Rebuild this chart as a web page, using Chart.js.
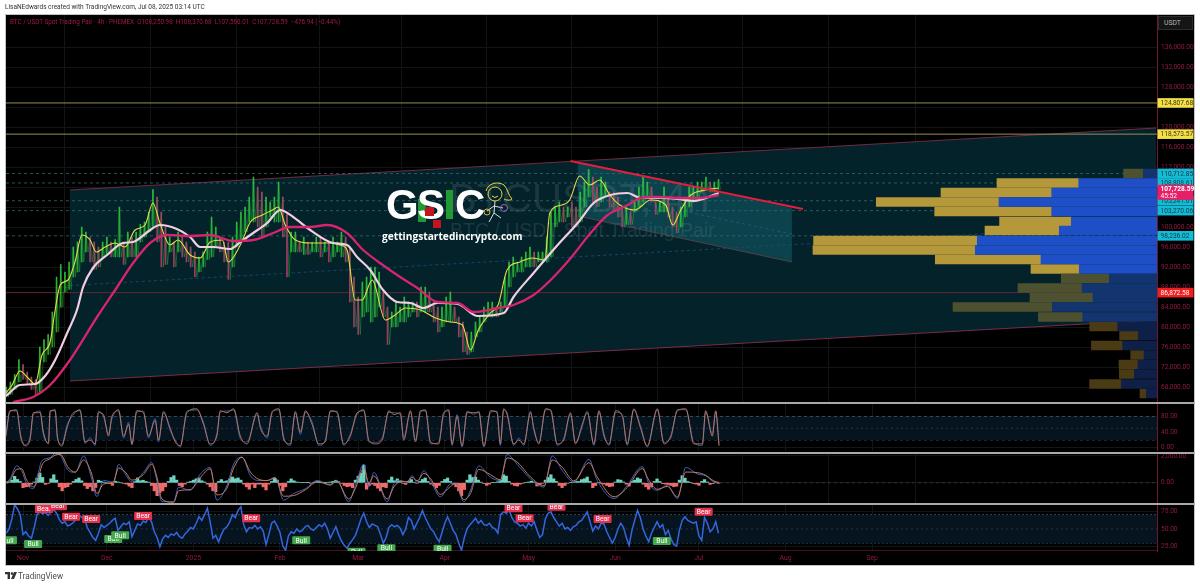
<!DOCTYPE html>
<html>
<head>
<meta charset="utf-8">
<title>BTC / USDT</title>
<script src="https://cdn.jsdelivr.net/npm/chart.js@4"></script>
<style>
html,body{margin:0;padding:0;background:#fff;width:1200px;height:586px;overflow:hidden;font-family:Roboto,"Liberation Sans",sans-serif}
#all{position:absolute;left:0;top:0;width:1200px;height:586px;filter:blur(.3px)}
#frame{position:absolute;left:5px;top:14px;width:1190px;height:552px;background:#000;border:1px solid #c4c4c4;box-sizing:border-box}
canvas{position:absolute}
.sep{position:absolute;left:5px;width:1190px;height:2px;background:#a9a9a9}
.txt{position:absolute;white-space:pre}
</style>
</head>
<body>
<div id="all">
<div class="txt" style="left:5px;top:3px;font-size:6.5px;color:#333">LisaNEdwards created with TradingView.com, Jul 08, 2025 03:14 UTC</div>
<div id="frame"></div>
<canvas id="cMain" style="left:6px;top:15px"></canvas>
<canvas id="cVol" style="left:800px;top:15px"></canvas>
<canvas id="cStoch" style="left:6px;top:404px"></canvas>
<canvas id="cMacd" style="left:6px;top:454px"></canvas>
<canvas id="cRsi" style="left:6px;top:505px"></canvas>
<div class="sep" style="top:402px"></div>
<div class="sep" style="top:452px"></div>
<div class="sep" style="top:503px"></div>
<div class="txt" style="left:10px;top:18px;font-size:6.3px;color:#a3184c">BTC / USDT Spot Trading Pair · 4h · PHEMEX  O108,250.98  H108,370.68  L107,560.01  C107,728.59  −476.94 (−0.44%)</div>
<div class="txt" style="left:1158px;top:16px;width:35px;height:14px;box-sizing:border-box;background:#151515;border:1px solid #2c2c2c;color:#b5b5b5;font-size:6.8px;line-height:12px;padding-left:5px">USDT</div>

<!-- logo over the chart -->
<div class="txt" style="left:386px;top:181px;font:bold 42px 'Liberation Sans';color:#fff;letter-spacing:1.5px">G</div>
<div class="txt" style="left:418px;top:199px;width:8px;height:23px;background:#1f9a35"></div>
<div class="txt" style="left:417px;top:181px;font:bold 42px 'Liberation Sans';color:#fff">S</div>
<div class="txt" style="left:425px;top:207px;width:9px;height:9px;background:#c3141f"></div>
<div class="txt" style="left:433px;top:220px;width:8px;height:8px;background:#c3141f"></div>
<div class="txt" style="left:446px;top:190px;width:7px;height:29px;background:#1f9a35"></div>
<div class="txt" style="left:455px;top:181px;font:bold 42px 'Liberation Sans';color:#fff">C</div>
<svg style="position:absolute;left:484px;top:181px" width="30" height="48" viewBox="0 0 30 48" fill="none" stroke-width="1">
<path d="M2 10 C4 2 14 0 20 4 C24 8 24 14 28 18 C26 20 22 19 20 18" stroke="#e8d94a"/>
<circle cx="11" cy="13" r="7" stroke="#e8d94a"/>
<path d="M8 15 Q11 18 14 15" stroke="#e8d94a"/>
<path d="M11 20 L10 32 M10 25 L3 30 M10 25 L19 27 M10 32 L5 41 M10 32 L17 37" stroke="#ddd"/>
<circle cx="3" cy="31" r="3" stroke="#d9b23a"/><circle cx="20" cy="27" r="3.5" stroke="#a060c0"/>
</svg>
<div class="txt" style="left:382px;top:229px;font:bold 10.2px 'Open Sans';color:#fff">gettingstartedincrypto.com</div>

<svg style="position:absolute;left:5px;top:572px" width="12" height="8" viewBox="0 0 12 8"><path d="M0 0H5V7H2.6V2.3H0Z M6 7 9 0H12L9 7Z" fill="#333"/><circle cx="7" cy="1.6" r="1.3" fill="#333"/></svg>
<div class="txt" style="left:18px;top:571px;font-size:8.2px;color:#4c4c4c">TradingView</div>
</div>

<script>
// time axis, days counted from 1 Nov 2024
var monthDays = [0, 30, 61, 92, 120, 151, 181, 212, 242, 273, 304];
var monthLabels = ['Nov', 'Dec', '2025', 'Feb', 'Mar', 'Apr', 'May', 'Jun', 'Jul', 'Aug', 'Sep'];
var dayMin = -6.1, dayMax = 406;

// price in thousands of USDT
var priceTicks = [136, 132, 128, 124, 120, 116, 112, 108, 104, 100, 96, 92, 88, 84, 80, 76, 72, 68];
var hiddenTicks = [124, 108, 104];

// 4h candles thinned to one every 1.5 days
var candleStart = -6, candleStep = 1.5;
var candleHigh = [68, 69, 70.5, 73.5, 72.5, 71, 70, 69.5, 76, 77.5,
  78.5, 83, 90, 92.5, 91, 93, 96, 97, 100, 99,
  98, 97, 96, 97, 98, 97, 97.5, 104, 97, 99,
  98, 99, 100.5, 101, 103, 107.5, 106, 103, 100, 98,
  97, 99, 98, 97, 96, 95, 94, 95, 99, 102,
  100, 98, 97, 97, 98, 101, 103, 104, 106, 110,
  108, 107, 106, 105, 106, 109, 106, 103, 99, 99,
  97, 98, 97, 97, 98, 98, 97, 97, 98, 97,
  99, 98, 96, 90, 86, 89, 90, 92, 92, 91,
  87, 84, 83, 85, 84, 86, 85, 85, 85, 88,
  88, 87, 85, 84, 84, 86, 87, 84, 82, 81,
  79, 79, 81, 82, 84, 85, 85, 84, 85, 90,
  93, 94, 93, 94, 95, 96, 95, 95, 95, 98,
  103, 104, 105, 104, 104, 105, 104, 107, 109, 111.5,
  110, 108, 110, 109, 107, 107, 106, 104, 104, 103,
  105, 108, 110, 109, 108, 105, 105, 108, 106, 104,
  103, 104, 106, 108, 108, 109, 109, 110, 109, 109,
  109.5];
var candleLow = [66, 66.5, 67.5, 69, 69.5, 68.5, 67.5, 66.5, 67, 73,
  74.5, 76, 79, 84, 87, 87.5, 90, 91, 93, 95,
  93, 91.5, 92, 94, 94.5, 94, 94, 94, 92.5, 94,
  94, 94, 97, 98, 99, 100, 97, 92, 92.5, 95,
  92, 95, 94, 93, 92, 90, 91, 92, 93.5, 94,
  96, 95, 93, 89.5, 92, 96, 97, 99, 101, 101,
  100, 98, 100, 102, 101, 101, 98, 90, 95, 95,
  95, 94.5, 94.5, 95, 95, 94, 95, 93, 94, 95,
  94, 93, 85, 80, 78.5, 82, 83, 81, 82, 84,
  82, 76.5, 80, 80, 81, 81, 82, 83, 82, 83,
  83, 83, 81, 79, 80, 81, 81, 81, 78, 75,
  74.5, 75, 78, 79, 81, 82, 82, 82, 83, 84,
  88, 90, 91, 91, 92, 92, 92, 93, 93, 93,
  94, 100, 101, 101, 102, 100, 100, 101, 104, 106,
  105, 104, 105, 106, 104, 103, 102, 100, 100.5, 100.5,
  103, 104, 105, 106, 105, 102.5, 103, 103, 102, 100,
  98.8, 100, 102, 104, 105, 106, 107, 107.5, 107, 107,
  107.5];

var yellowDays = [-6.1, -3.9, -1.1, 1.8, 4.3, 6.8, 9.7, 11.5, 13.3, 16.1, 18.6, 21.1, 24, 26.2, 29.4, 32.9, 36.5, 40.1, 43.7, 46.5, 49, 52.6, 55.5, 59.8, 63.4, 67, 71.4, 73.5, 77.8, 81.4, 85.7, 89.3, 91.4, 93.9, 97.5, 102.8, 109.9, 113.5, 116, 118.9, 121.4, 125, 129.7, 133.2, 136.9, 142.3, 147.7, 153, 157.3, 160.2, 163, 167.3, 170.1, 173.3, 177.9, 182.2, 186.8, 188.6, 192.9, 195.7, 199.3, 202.9, 206.5, 210.1, 213.7, 219, 224.7, 230.1, 232.6, 235.5, 239.1, 244.4, 249.1];
var yellowVals = [66.8, 68.4, 71.2, 69.8, 68.6, 74.4, 77, 83.4, 88.4, 89.4, 93, 98.4, 97.4, 95, 96, 96.8, 96, 99.4, 100.4, 104.8, 100.8, 96.4, 97.4, 94.4, 93.8, 97, 97.4, 93, 96.4, 101, 102.4, 103.4, 104, 100.4, 97.4, 96.8, 96.8, 96.4, 95.4, 85.4, 85.4, 89.4, 81.4, 82.4, 83.8, 83.4, 81.8, 81, 80.4, 75.4, 79.4, 82.8, 84.4, 91.4, 93, 93.8, 93.4, 102.8, 104.4, 105.4, 110.2, 108.4, 109.4, 106.4, 104.4, 103.4, 105.4, 104.4, 100.4, 103.4, 106.4, 107.4, 107.8];

var whiteDays = [-6.1, -1.1, 4.3, 7.9, 11.5, 15.8, 19.3, 21.5, 25, 30.1, 35.8, 39.4, 45.5, 49, 55.1, 59.8, 63.4, 68, 74.1, 77.8, 82.4, 87.4, 92.1, 96.7, 102.8, 111, 116, 119.6, 124.3, 128.9, 134, 138.7, 143.3, 148.4, 155.6, 162.8, 172.1, 175.6, 182.8, 191.4, 198.6, 204.3, 210.4, 216.5, 221.1, 228.3, 234.4, 240.1, 249.1];
var whiteVals = [66.2, 68.4, 68.6, 70.2, 73.4, 78.8, 83.4, 88, 91.8, 94.4, 96.8, 97, 99.4, 100.4, 99.6, 98, 96, 96, 95.6, 97, 98.8, 100.8, 103.4, 102, 99.4, 96.8, 96.4, 94, 91.4, 87.4, 85, 84.8, 83.8, 84.8, 84.6, 82.2, 82.8, 86, 90.8, 96.4, 100.8, 104.8, 106.4, 106.8, 105.8, 105.8, 105.6, 105.2, 106.8];

var crimsonDays = [-3.6, 3.6, 9.7, 16.8, 26.5, 33.7, 39.4, 45.5, 51.6, 59.8, 67, 75.3, 82.4, 89.6, 95.7, 102.8, 108.9, 116, 121.8, 127.8, 135, 141.2, 148.4, 155.6, 161.3, 170, 175.6, 182.8, 188.9, 196.1, 203.2, 209.3, 216.5, 221.1, 227.2, 236.6, 242.7, 249.1];
var crimsonVals = [65, 66, 68.4, 73.4, 82, 88, 92.8, 96.8, 98.4, 98.2, 98.4, 97.2, 97.4, 98.8, 100, 100, 100.4, 98.8, 95.4, 92.8, 90, 87.8, 85, 84.8, 83, 83.8, 84.4, 86.4, 89.4, 93.8, 98.8, 102.4, 104.4, 105.8, 106, 105.8, 105.8, 106.4];

// channels and drawn lines
var channelDays = [16.8, 405.7];
var channelUpper = [107.4, 119.8];
var channelMid = [88.3, 100.6];
var channelLower = [69.2, 81.4];
var wedgeDays = [198.6, 275.3];
var wedgeUpper = [112.9, 103.8];
var wedgeMid = [107.6, 98.6];
var wedgeLower = [102.2, 93];
var trendDays = [196, 279.2];
var trendVals = [113.2, 103.6];

var yellowLevels = [124.80768, 118.57357];
var redLevel = 86.87258;
var dashLevels = [110.71285, 108.80861, 105.24161, 103.27006, 98.23602];

var tagVals = [124.80768, 118.57357, 110.71285, 108.80861, 105.24161, 103.27006, 98.23602, 86.87258];
var tagTexts = ['124,807.68', '118,573.57', '110,712.85', '108,808.61', '105,241.61', '103,270.06', '98,236.02', '86,872.58'];
var tagKinds = ['level', 'level', 'fib', 'fib', 'fib', 'fib', 'fib', 'low'];
var lastPrice = 107.72859, lastText = '107,728.59', lastTimer = '45:52';

// volume profile rows
var volPrices = [110.7, 108.8, 106.9, 105, 103.1, 101.1, 99.3, 97.3, 95.4, 93.5, 91.6, 89.7, 87.8, 85.9, 84, 82, 80.1, 78.3, 76.3, 74.4, 72.5, 70.6, 68.6, 66.7];
var volBuy = [13.7, 78.3, 105.3, 158, 105.3, 85.7, 97.7, 179.7, 181.7, 116, 77.7, 47.7, 75, 64, 104.7, 74.3, 39.3, 18.7, 34.3, 13, 19, 22.7, 35.7, 10.7];
var volSell = [19.7, 81.7, 110.7, 122.7, 117, 71.7, 74.3, 163.7, 162.3, 105.7, 48.3, 48, 64, 63, 99.3, 44.3, 28, 18.7, 31.3, 13.3, 19, 15, 31.7, 6.3];

// stochastic RSI
var stochDays = [-6.1, -4.7, -2.3, -0.8, 0.7, 2.5, 3.7, 6.1, 7.3, 9.1, 9.7, 11.5, 12.3, 13.9, 15.7, 17.5, 20.4, 22.2, 24, 25.8, 27, 28.8, 30.6, 31.8, 34.2, 36, 37.8, 39, 40.7, 43.1, 44.9, 47.3, 48.5, 50.3, 52.7, 54.5, 56.3, 58.7, 62.2, 64.6, 67, 69.4, 70.6, 73, 75.4, 77.8, 80.2, 83.8, 85, 87.4, 89.2, 91.6, 93.4, 95.7, 97.5, 99.3, 101.1, 103.5, 105.9, 108.2, 110, 112.4, 114.8, 117.2, 119.6, 122, 123.8, 126.2, 128.6, 131, 132.8, 135.1, 136.3, 138.7, 140.5, 142.3, 144.1, 145.9, 148.8, 150.6, 152.4, 153.6, 155.4, 157.2, 159, 161.4, 163.2, 165, 167.4, 169.7, 170.9, 172.1, 173.3, 175.7, 177.5, 179.3, 181.7, 182.9, 184.7, 187.1, 188.9, 191.3, 193.6, 196, 197.8, 200.2, 202, 204.4, 206.2, 208, 209.8, 212.2, 214.6, 216.3, 218.7, 221.1, 223.5, 227.1, 229.5, 231.9, 234.3, 237.3, 240.2, 243.2, 244.4, 246.8, 248, 249.2];
var stochOrange = [30, 95, 95, 30, 5, 20, 90, 90, 40, 10, 95, 95, 30, 5, 50, 85, 95, 15, 20, 10, 90, 85, 30, 80, 95, 30, 60, 10, 95, 90, 30, 70, 20, 90, 50, 15, 5, 90, 100, 60, 10, 30, 95, 90, 100, 30, 10, 90, 50, 30, 90, 100, 20, 10, 90, 40, 95, 60, 10, 15, 95, 90, 10, 30, 90, 95, 20, 10, 20, 95, 85, 90, 20, 95, 15, 95, 95, 15, 10, 90, 95, 10, 80, 5, 90, 90, 90, 5, 95, 90, 10, 100, 85, 10, 20, 10, 90, 50, 10, 100, 95, 10, 20, 90, 10, 60, 90, 10, 95, 30, 10, 95, 80, 10, 100, 50, 5, 100, 10, 30, 95, 100, 10, 10, 95, 30, 95, 5];
var stochBlue = [38, 92, 98, 24, 8, 28, 86, 94, 33, 14, 91, 98, 24, 9, 57, 80, 98, 11, 26, 6, 94, 80, 36, 74, 98, 25, 66, 7, 91, 94, 25, 75, 15, 94, 44, 20, 2, 94, 97, 66, 6, 36, 91, 94, 97, 24, 15, 85, 56, 25, 94, 97, 26, 6, 94, 34, 91, 66, 6, 20, 91, 94, 6, 36, 85, 98, 15, 14, 26, 91, 90, 85, 26, 91, 20, 91, 98, 10, 14, 85, 98, 6, 85, 2, 94, 86, 94, 2, 91, 94, 6, 97, 90, 6, 25, 6, 94, 44, 14, 97, 98, 6, 25, 85, 14, 54, 94, 6, 91, 36, 6, 91, 85, 6, 97, 56, 2, 97, 14, 25, 98, 97, 14, 6, 91, 36, 91, 9];

// MACD
var macdDays = [-6.1, -4.7, -2.3, -0.5, 1.3, 3.7, 5.5, 6.7, 9.7, 11.5, 13.3, 16.3, 18.7, 21.7, 24.6, 26.4, 28.8, 32.4, 34.2, 36.6, 39, 43.1, 46.1, 47.9, 49.7, 53.9, 55.7, 59.9, 63.5, 67, 69.4, 73, 75.4, 78.4, 81.4, 84.4, 87.4, 90.3, 93.3, 96.9, 101.1, 105.3, 110, 112.4, 116.6, 119, 122, 123.8, 125.6, 130.4, 132.8, 135.1, 137.5, 139.3, 141.1, 143.5, 145.9, 149.4, 153, 154.8, 157.8, 160.2, 163.2, 167.4, 170.9, 173.3, 176.9, 181.7, 186.5, 189.5, 193.1, 197.2, 202.6, 205.6, 211.6, 216.3, 221.7, 224.1, 227.1, 230.7, 234.3, 237.3, 241.4, 244.4, 247.4, 249.2];
var macdVals = [0, 290, 1260, 900, -70, -440, 780, 1630, 1870, 2190, 2070, 900, 780, 2000, 290, -1040, 170, 50, 1380, 660, 50, 780, 1510, 170, -1410, -1410, -320, -560, 660, 1140, -1290, -190, 1390, 1920, 530, 170, 170, 410, -1290, -800, -440, 170, -190, 170, -1410, -190, 1380, -320, 780, -1410, -70, 170, 50, 530, 50, 900, 170, -1040, -70, -20, -1410, -560, 1260, 410, 170, 2120, 1380, 290, -320, 2000, 900, 50, 1750, 170, -1170, -190, 1210, -70, -560, -190, -1170, 1140, 660, 530, 50, 0];
var signalVals = [40, 160, 1000, 1040, 200, -300, 340, 1280, 1800, 2060, 2120, 1100, 800, 1700, 640, -800, -100, 90, 1100, 800, 200, 620, 1380, 460, -1200, -1450, -600, -500, 400, 1040, -900, -400, 1100, 1900, 800, 260, 170, 360, -1000, -950, -520, 60, -120, 100, -1200, -420, 1100, 0, 520, -1200, -300, 90, 90, 400, 150, 700, 320, -860, -280, -40, -1250, -800, 1000, 600, 220, 1850, 1550, 430, -220, 1700, 1150, 140, 1500, 420, -1040, -360, 1060, 180, -480, -270, -1060, 800, 760, 560, 130, 30];
var histStart = -6;
var histVals = [0, 50, 200, 480, 250, 100, -360, -300, -290, -100, 60, 350, 720, 400, -120, -50, 300, 600, 200, -300, -600, -350, -290, -100, 100, 250, 360, 150, -200, -430, -300, -600, -350, 190, 120, 50, 0, -50, -190, 120, 60, 0, -50, -100, -250, -360, 100, 360, 150, 190, 100, 50, -200, -600, -960, -720, -600, -300, 100, 400, 530, 200, -200, -290, -100, 50, 100, 200, 300, 360, 150, 60, -100, -300, -600, -670, 100, 240, 100, 150, 300, 430, 300, 360, 200, -100, -300, -480, -100, -360, -100, -100, -300, -530, -100, 100, 360, 200, -200, -600, -300, 100, 290, 150, 60, 40, 30, 30, 20, -20, 30, 80, 120, 50, 20, 40, 60, 100, 190, 80, -50, -200, -290, -250, -360, 200, 500, 720, 1320, -480, -200, -100, -200, -400, -600, -300, -360, 200, 430, 150, 290, 150, -50, -120, 100, 240, 50, -30, 100, 250, 360, 100, -100, -200, -360, -200, 100, 250, 360, 100, -100, -300, -600, -960, -500, 200, 600, 400, 430, 200, 50, -60, -190, -100, 30, 30, 80, 200, 600, 500, 100, -100, -200, -240, -100, -30, 30, 60, 120, 50, -240, -150, -30, 200, 400, 600, 300, 100, -200, -360, -200, -30, 40, 60, 100, 100, 240, 300, 430, 100, -360, -200, 30, -50, -100, -200, -290, -250, 60, 240, 200, 60, -100, -240, 100, 200, 360, 280, -100, -300, -480, -300, 100, 290, 100, -60, -100, -120, -200, -290, -250, 200, 530, 350, 100, 30, -60, -100, -190, 100, 240, 60, -120, -60, 20, -20];

// RSI, one reading a day
var rsiStart = -6;
var rsiVals = [44, 50, 64, 84, 78, 70, 42, 46, 40, 37,
  52, 70, 74, 71, 73, 69, 74, 77, 72, 63,
  58, 60, 54, 56, 59, 64, 70, 66, 64, 52,
  45, 38, 34, 44, 56, 52, 55, 58, 62, 65,
  48, 53, 58, 56, 60, 39, 48, 57, 55, 61,
  59, 67, 60, 46, 38, 25, 36, 41, 38, 43,
  41, 45, 39, 37, 43, 47, 52, 50, 58, 67,
  62, 70, 79, 60, 37, 41, 32, 42, 50, 53,
  60, 70, 66, 76, 81, 56, 46, 52, 51, 55,
  50, 53, 47, 28, 42, 58, 61, 54, 45, 26,
  20, 40, 46, 44, 50, 46, 48, 53, 55, 50,
  48, 52, 56, 53, 58, 50, 37, 45, 53, 42,
  33, 27, 23, 30, 35, 41, 52, 64, 72, 60,
  52, 57, 55, 53, 42, 30, 38, 52, 56, 53,
  55, 51, 42, 50, 66, 62, 50, 58, 66, 76,
  66, 58, 50, 46, 38, 32, 45, 58, 67, 58,
  48, 42, 30, 20, 38, 50, 56, 60, 65, 58,
  62, 56, 55, 58, 52, 50, 44, 70, 74, 72,
  77, 66, 60, 58, 54, 56, 51, 58, 54, 60,
  48, 38, 42, 64, 72, 74, 66, 60, 54, 58,
  50, 52, 48, 53, 55, 60, 62, 68, 74, 60,
  47, 54, 50, 58, 57, 46, 38, 30, 38, 50,
  58, 52, 38, 27, 48, 62, 76, 66, 50, 40,
  32, 44, 52, 60, 52, 56, 42, 48, 36, 28,
  26, 48, 62, 67, 62, 60, 58, 60, 40, 34,
  66, 58, 46, 50, 60, 44];

var signalDays = [-5.4, 3.6, 7.5, 12.5, 17.2, 24.4, 32.3, 34.8, 43, 81.7, 99.6, 119.4, 130.1, 150.2, 175.6, 179.6, 191, 207.5, 228.7, 243.7];
var signalVals2 = [34, 29, 78, 82, 67, 64, 36, 41, 68, 65, 34, 18, 23, 22, 79, 65, 81, 64, 33, 74];
var signalNames = ['Bull', 'Bull', 'Bear', 'Bear', 'Bear', 'Bear', 'Bull', 'Bull', 'Bear', 'Bear', 'Bull', 'Bull', 'Bull', 'Bull', 'Bear', 'Bear', 'Bear', 'Bear', 'Bull', 'Bear'];

var axisRed = '#8f1a44';
var gridCol = '#101618';
var W = 1189, AXIS_W = 38;

Chart.defaults.animation = false;
Chart.defaults.responsive = false;
Chart.defaults.font.family = 'Roboto';

function pts(xs, ys) {
  var out = [];
  for (var i = 0; i < xs.length; i++) out.push({x: xs[i], y: ys[i]});
  return out;
}
function flat(v) { return [{x: dayMin, y: v}, {x: dayMax, y: v}]; }
function fmt(v) { return v.toLocaleString('en-US', {minimumFractionDigits: 2, maximumFractionDigits: 2}); }

function line(data, color, width, extra) {
  var d = {type: 'line', data: data, borderColor: color, borderWidth: width, pointRadius: 0, fill: false, tension: 0};
  for (var k in extra) d[k] = extra[k];
  return d;
}

function xScale(withLabels) {
  return {
    type: 'linear', min: dayMin, max: dayMax, offset: false,
    border: {display: false},
    grid: {color: gridCol, drawTicks: false},
    ticks: {display: withLabels, color: axisRed, autoSkip: false, maxRotation: 0, padding: 3, font: {size: 6.8},
      callback: function (v) { return monthLabels[monthDays.indexOf(v)]; }},
    afterBuildTicks: function (s) { s.ticks = monthDays.map(function (d) { return {value: d}; }); },
    afterFit: function (s) { s.height = withLabels ? 15 : 0; s.paddingLeft = 0; s.paddingRight = 0; }
  };
}
function yScale(min, max, ticks, label) {
  return {
    position: 'right', min: min, max: max,
    border: {color: '#6d1637', width: 1},
    grid: {color: gridCol, drawTicks: false},
    ticks: {color: axisRed, padding: 4, font: {size: 6.6}, autoSkip: false, callback: label},
    afterBuildTicks: function (s) { s.ticks = ticks.map(function (t) { return {value: t}; }); },
    afterFit: function (s) { s.width = AXIS_W; s.paddingTop = 0; s.paddingBottom = 0; }
  };
}
function size(id, w, h) {
  var c = document.getElementById(id);
  c.width = w; c.height = h; c.style.width = w + 'px'; c.style.height = h + 'px';
  return c;
}
function opts(yS, withLabels) {
  return {
    devicePixelRatio: 1,
    layout: {padding: 0},
    plugins: {legend: {display: false}, tooltip: {enabled: false}},
    scales: {x: xScale(withLabels), y: yS}
  };
}

// ---- main pane
var candleData = [], priceZigzag = [];
for (var i = 0; i < candleHigh.length; i++) {
  var d = candleStart + i * candleStep;
  candleData.push({x: d, y: [candleLow[i], candleHigh[i]]});
  priceZigzag.push({x: d, y: candleHigh[i]});
  priceZigzag.push({x: d + candleStep / 2, y: candleLow[i]});
}
var candleColors = candleData.map(function (c, i) {
  if (i == 0) return 'rgba(47,210,60,.75)';
  var prev = candleData[i - 1].y;
  return c.y[0] + c.y[1] >= prev[0] + prev[1] ? 'rgba(47,210,60,.75)' : 'rgba(184,64,108,.85)';
});

var WEDGE_INDEX = 6;
var watermark = {
  id: 'watermark',
  afterDatasetDraw: function (ch, args) {
    if (args.index != WEDGE_INDEX) return;
    var c = ch.ctx;
    c.save();
    c.fillStyle = 'rgba(150,175,185,.16)';
    c.textBaseline = 'alphabetic';
    c.font = '41.5px "Liberation Sans"';
    c.fillText('BTCUSDT, 4h', 443, 197);
    c.font = '19.5px "Liberation Sans"';
    c.fillText('BTC / USDT Spot Trading Pair', 444, 222);
    c.restore();
  }
};
function tag(c, x, y, w, h, bg, fg, text) {
  c.fillStyle = bg;
  c.fillRect(x, y - h / 2, w, h);
  c.fillStyle = fg;
  c.fillText(text, x + 3, y + .5);
}
var priceTags = {
  id: 'priceTags',
  afterDraw: function (ch) {
    var c = ch.ctx, s = ch.scales.y, x = ch.chartArea.right + .5;
    c.save();
    c.font = '6.6px Roboto';
    c.textBaseline = 'middle';
    c.textAlign = 'left';
    tagVals.forEach(function (v, i) {
      var k = tagKinds[i];
      var bg = k == 'level' ? '#f3e047' : k == 'fib' ? '#12bcd6' : '#f01e1e';
      var fg = k == 'low' ? '#ffffff' : '#16363c';
      if (k == 'level') fg = '#3a3410';
      tag(c, x, s.getPixelForValue(v), 36, 9.6, bg, fg, tagTexts[i]);
    });
    var y = s.getPixelForValue(lastPrice);
    c.fillStyle = '#e71f66';
    c.fillRect(x, y - 3.5, 36, 15);
    c.fillStyle = '#fff';
    c.font = 'bold 6.6px Roboto';
    c.fillText(lastText, x + 3, y + .5);
    c.font = '6.6px Roboto';
    c.fillText(lastTimer, x + 3, y + 8);
    c.restore();
  }
};

var mainSets = [
  line(pts(trendDays, trendVals), '#e21f3d', 2.1, {order: 1}),
  line(pts(crimsonDays, crimsonVals), '#d6246e', 2.3, {order: 2, cubicInterpolationMode: 'monotone'}),
  line(pts(whiteDays, whiteVals), '#f0cfe0', 2.2, {order: 3, cubicInterpolationMode: 'monotone'}),
  line(pts(yellowDays, yellowVals), '#e6dc46', 1.1, {order: 4, cubicInterpolationMode: 'monotone'}),
  {type: 'bar', data: candleData, backgroundColor: candleColors, barThickness: 1, order: 5},
  line(priceZigzag, 'rgba(53,196,63,.6)', .6, {order: 6}),
  line(pts(wedgeDays, wedgeUpper), 'rgba(0,0,0,0)', 0, {order: 20, fill: '+1', backgroundColor: 'rgba(22,112,124,.42)'}),
  line(pts(wedgeDays, wedgeLower), '#50404c', 1, {order: 19}),
  line(pts(wedgeDays, wedgeMid), '#1d5f88', .8, {order: 18, borderDash: [3, 3]}),
  line(pts(channelDays, channelUpper), '#6e2c44', 1, {order: 30, fill: '+1', backgroundColor: '#04222a'}),
  line(pts(channelDays, channelLower), '#7a2c48', 1, {order: 29}),
  line(pts(channelDays, channelMid), '#1b4d78', .8, {order: 17, borderDash: [3, 3]}),
  line(flat(yellowLevels[0]), '#a89d5c', .9, {order: 9}),
  line(flat(yellowLevels[1]), '#a89d5c', .9, {order: 9}),
  line(flat(redLevel), '#6a2a34', .9, {order: 9})
];
dashLevels.forEach(function (v) {
  mainSets.push(line(flat(v), '#2e6a72', .8, {order: 10, borderDash: [3, 3]}));
});

new Chart(size('cMain', W, 387), {
  type: 'line',
  data: {datasets: mainSets},
  options: opts(yScale(65, 142.4, priceTicks, function (v) {
    return hiddenTicks.indexOf(v) >= 0 ? '' : fmt(v * 1000);
  }), false),
  plugins: [watermark, priceTags]
});

// ---- volume profile, drawn from the right edge of the price pane
function volColor(bright, dim, dark) {
  return volPrices.map(function (p) {
    if (p < 81) return dark;
    if (p > 110 || p < 90.5) return dim;
    return bright;
  });
}
new Chart(size('cVol', 357, 387), {
  type: 'bar',
  data: {datasets: [
    {data: pts(volBuy, volPrices), backgroundColor: volColor('#1f4fc6', '#12346f', '#0e1f48'), barThickness: 8.8},
    {data: pts(volSell, volPrices), backgroundColor: volColor('#b5983a', '#4d5130', '#4b3b14'), barThickness: 8.8}
  ]},
  options: {
    indexAxis: 'y',
    devicePixelRatio: 1,
    layout: {padding: 0},
    plugins: {legend: {display: false}, tooltip: {enabled: false}},
    scales: {
      x: {type: 'linear', display: false, stacked: true, reverse: true, min: 0, max: 357},
      y: {type: 'linear', display: false, stacked: true, min: 65, max: 142.4, offset: false}
    }
  }
});

// ---- stochastic pane
new Chart(size('cStoch', W, 47), {
  type: 'line',
  data: {datasets: [
    line(pts(stochDays, stochOrange), '#c67b52', .9, {order: 1, cubicInterpolationMode: 'monotone'}),
    line(pts(stochDays, stochBlue), '#3c62c8', .9, {order: 2, cubicInterpolationMode: 'monotone'}),
    line(flat(80), '#3a5a6a', .8, {order: 5, borderDash: [3, 3], fill: '+1', backgroundColor: '#05141f'}),
    line(flat(20), '#3a5a6a', .8, {order: 6, borderDash: [3, 3]}),
    line(flat(50), '#2c3f4a', .8, {order: 4, borderDash: [2, 3]})
  ]},
  options: opts(yScale(-8.2, 112.3, [80, 40, 0], fmt), false)
});

// ---- MACD pane
var histDays = histVals.map(function (v, i) { return histStart + i; });
new Chart(size('cMacd', W, 49), {
  type: 'line',
  data: {datasets: [
    line(pts(macdDays, macdVals), '#3c62c8', 1, {order: 2, cubicInterpolationMode: 'monotone'}),
    line(pts(macdDays, signalVals), '#c67b52', 1, {order: 1, cubicInterpolationMode: 'monotone'}),
    {type: 'bar', data: pts(histDays, histVals), barThickness: 2.6, order: 3,
      backgroundColor: histVals.map(function (v) { return v >= 0 ? '#6ed3c0' : '#f26a6a'; })},
    line(flat(0), '#3a3a3a', .8, {order: 4, borderDash: [3, 3]})
  ]},
  options: opts(yScale(-1504, 2146, [2000, 0], fmt), false)
});

// ---- RSI pane
var badges = {
  id: 'badges',
  afterDatasetsDraw: function (ch) {
    var c = ch.ctx, a = ch.chartArea;
    c.save();
    c.beginPath();
    c.rect(a.left, a.top - 1, a.right - a.left, a.bottom - a.top + 1);
    c.clip();
    c.textAlign = 'center';
    c.textBaseline = 'middle';
    c.font = '6.8px Roboto';
    signalDays.forEach(function (d, i) {
      var x = ch.scales.x.getPixelForValue(d), y = ch.scales.y.getPixelForValue(signalVals2[i]);
      c.fillStyle = signalNames[i] == 'Bear' ? '#e5304e' : '#46a84e';
      c.beginPath();
      c.roundRect(x - 9, y - 4, 18, 8, 1);
      c.fill();
      c.fillStyle = '#ffffff';
      c.fillText(signalNames[i], x, y + .5);
    });
    c.restore();
  }
};
var rsiDays = rsiVals.map(function (v, i) { return rsiStart + i; });
new Chart(size('cRsi', W, 61), {
  type: 'line',
  data: {datasets: [
    line(pts(rsiDays, rsiVals), '#3566e0', 1.5, {order: 1}),
    line(flat(70), '#3a5a6a', .8, {order: 5, borderDash: [2, 2], fill: '+1', backgroundColor: '#05141f'}),
    line(flat(30), '#3a5a6a', .8, {order: 6, borderDash: [2, 2]}),
    line(flat(50), '#2c3f4a', .8, {order: 4, borderDash: [2, 3]}),
    line(flat(19.2), '#6d1637', 1, {order: 3})
  ]},
  options: opts(yScale(19, 83.6, [75, 50, 25], fmt), true),
  plugins: [badges]
});
</script>
</body>
</html>
